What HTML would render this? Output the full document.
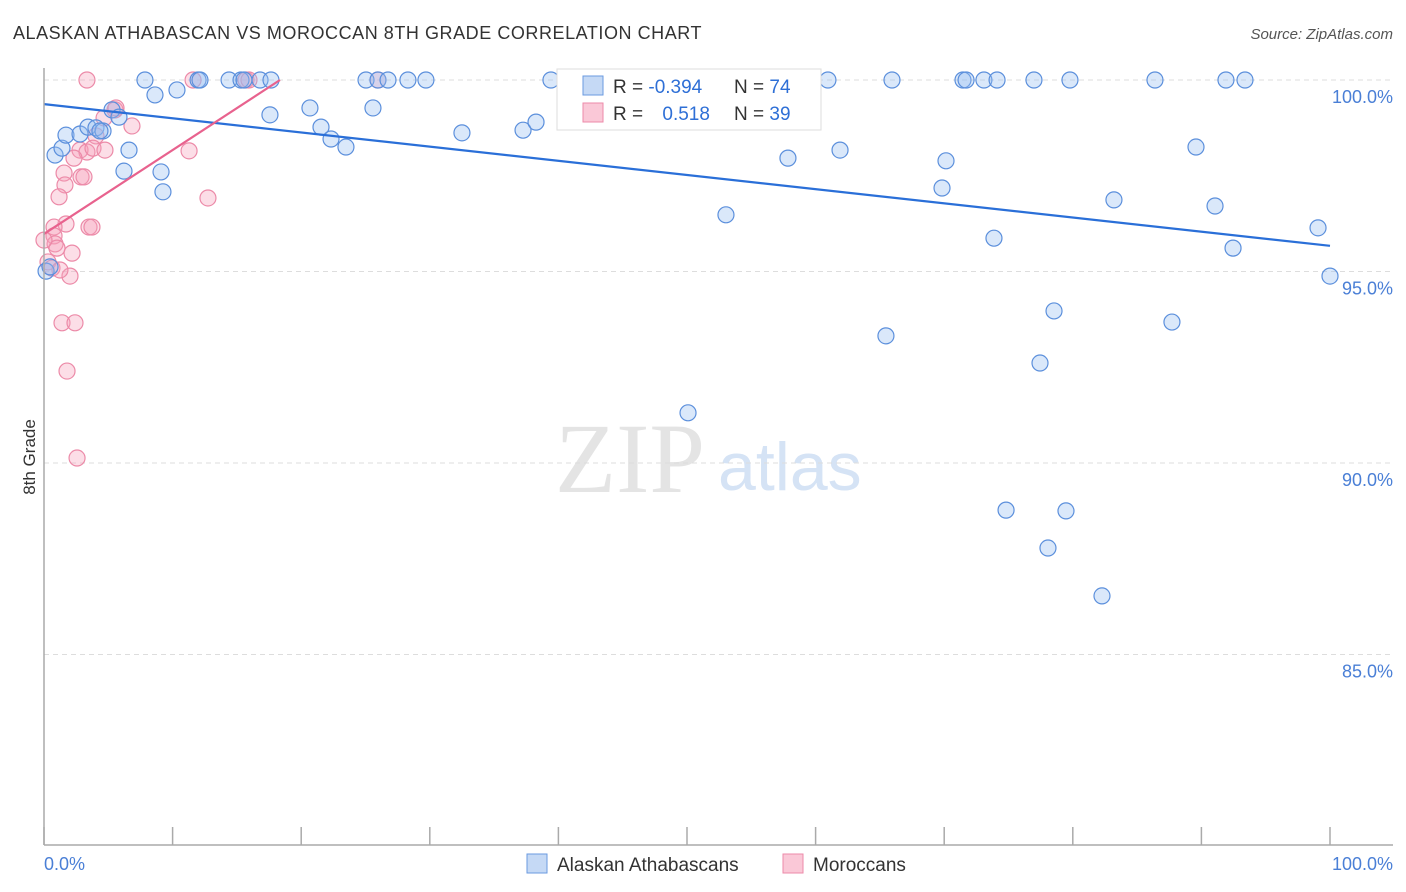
<!DOCTYPE html>
<html><head><meta charset="utf-8"><style>
body{margin:0;background:#fff;font-family:"Liberation Sans",sans-serif;}
svg{display:block}
</style></head><body>
<svg id="c" width="1406" height="892">
<text x="13" y="39" font-size="18" fill="#333" letter-spacing="0.55">ALASKAN ATHABASCAN VS MOROCCAN 8TH GRADE CORRELATION CHART</text>
<text x="1393" y="39" font-size="15" fill="#555" font-style="italic" text-anchor="end">Source: ZipAtlas.com</text>
<text x="35" y="457" font-size="17" fill="#333" transform="rotate(-90 35 457)" text-anchor="middle">8th Grade</text>
<text x="555" y="492" font-size="100" fill="#e4e4e4" font-family="Liberation Serif,serif">ZIP</text>
<text x="718" y="490" font-size="68" fill="#d5e3f5">atlas</text>
<g id="grid"></g><g id="pts"></g><g id="trend"></g>
<line x1="44" y1="68" x2="44" y2="845" stroke="#aaa" stroke-width="1.5"/>
<line x1="44" y1="845" x2="1393" y2="845" stroke="#aaa" stroke-width="1.5"/>
<text x="44" y="870" font-size="18" fill="#4a7fd6">0.0%</text>
<text x="1393" y="870" font-size="18" fill="#4a7fd6" text-anchor="end">100.0%</text>
<g>
<rect x="557" y="69" width="264" height="61" fill="#fff" stroke="#ddd"/>
<rect x="583" y="76" width="20" height="19" fill="#c5d9f5" stroke="#6a9ae0"/>
<rect x="583" y="103" width="20" height="19" fill="#fac8d7" stroke="#ec8aa8"/>
<text x="613" y="93" font-size="19" fill="#333">R = <tspan fill="#2e6fd6">-0.394</tspan></text>
<text x="734" y="93" font-size="19" fill="#333">N = <tspan fill="#2e6fd6">74</tspan></text>
<text x="613" y="120" font-size="19" fill="#333">R = <tspan fill="#2e6fd6" dx="14">0.518</tspan></text>
<text x="734" y="120" font-size="19" fill="#333">N = <tspan fill="#2e6fd6">39</tspan></text>
</g>
<g><rect x="527" y="854" width="20" height="19" fill="#c5d9f5" stroke="#6a9ae0"/><text x="557" y="871" font-size="19" fill="#333">Alaskan Athabascans</text></g>
<g><rect x="783" y="854" width="20" height="19" fill="#fac8d7" stroke="#ec8aa8"/><text x="813" y="871" font-size="19" fill="#333">Moroccans</text></g>
</svg>
<script>
const yTicks=[100,95,90,85];
const xTicks=[0,10,20,30,40,50,60,70,80,90,100];
const bluePx=[[145,80],[155,95],[177,90],[198,80],[200,80],[229,80],[241,80],[244,80],[260,80],[271,80],[366,80],[378,80],[388,80],[408,80],[426,80],[551,80],[574,80],[828,80],[892,80],[963,80],[966,80],[984,80],[997,80],[1034,80],[1070,80],[1155,80],[1226,80],[1245,80],[55,155],[62,148],[66,135],[80,134],[88,127],[96,128],[103,131],[112,110],[119,117],[124,171],[129,150],[161,172],[163,192],[270,115],[310,108],[321,127],[331,139],[346,147],[373,108],[462,133],[523,130],[536,122],[726,215],[788,158],[840,150],[946,161],[942,188],[994,238],[1114,200],[1196,147],[1215,206],[1233,248],[1318,228],[1330,276],[886,336],[1054,311],[1040,363],[1172,322],[688,413],[1006,510],[1066,511],[1048,548],[1102,596],[46,271],[50,267],[100,131]];
const pinkPx=[[87,80],[193,80],[246,80],[249,80],[378,80],[115,110],[116,108],[132,126],[104,118],[96,136],[80,150],[87,152],[93,148],[105,150],[74,158],[189,151],[208,198],[64,173],[65,185],[59,197],[81,177],[84,177],[89,227],[92,227],[66,224],[54,227],[54,236],[55,244],[57,248],[48,262],[52,268],[72,253],[70,276],[62,323],[75,323],[67,371],[77,458],[44,240],[60,270]];
const blueX=bluePx.map(p=>+((p[0]-44)/12.86).toFixed(2));
const blueY=bluePx.map(p=>+(100-(p[1]-80)/38.3).toFixed(2));
const pinkX=pinkPx.map(p=>+((p[0]-44)/12.86).toFixed(2));
const pinkY=pinkPx.map(p=>+(100-(p[1]-80)/38.3).toFixed(2));
const blueTrend=[[0,99.37],[100,95.67]];
const pinkTrend=[[0,95.98],[18.35,100]];
const X=v=>44+v*12.86, Y=v=>80+(100-v)*38.3;
const NS="http://www.w3.org/2000/svg";
function mk(t,a,p){const e=document.createElementNS(NS,t);for(const k in a)e.setAttribute(k,a[k]);p.appendChild(e);return e;}
const g=document.getElementById('grid');
yTicks.forEach(v=>{
 const l=mk('line',{x1:44,x2:1393,y1:Y(v),y2:Y(v),stroke:'#ddd','stroke-dasharray':'5,4'},g);
 
 
 const t=mk('text',{x:1393,y:Y(v)+23,'font-size':18,fill:'#4a7fd6','text-anchor':'end'},g);
 t.textContent=v.toFixed(1)+'%';
 
 
});
xTicks.forEach(v=>{
 const l=mk('line',{x1:X(v),x2:X(v),y1:827,y2:845,stroke:'#aaa','stroke-width':1.5},g);
 
 
});
const pg=document.getElementById('pts');
pinkX.forEach((x,i)=>{
 const c=mk('circle',{cx:X(x),cy:Y(pinkY[i]),r:8,fill:'rgba(245,160,185,0.35)',stroke:'#ec8aa8','stroke-width':1.2},pg);
 
 
});
blueX.forEach((x,i)=>{
 const c=mk('circle',{cx:X(x),cy:Y(blueY[i]),r:8,fill:'rgba(150,190,240,0.35)',stroke:'#5b8fdc','stroke-width':1.2},pg);
 
 
});
const tg=document.getElementById('trend');
const bl=mk('line',{x1:X(blueTrend[0][0]),y1:Y(blueTrend[0][1]),x2:X(blueTrend[1][0]),y2:Y(blueTrend[1][1]),stroke:'#2a6fd8','stroke-width':2.2},tg);


const pl=mk('line',{x1:X(pinkTrend[0][0]),y1:Y(pinkTrend[0][1]),x2:X(pinkTrend[1][0]),y2:Y(pinkTrend[1][1]),stroke:'#e8628e','stroke-width':2.2},tg);


</script>
</body></html>
